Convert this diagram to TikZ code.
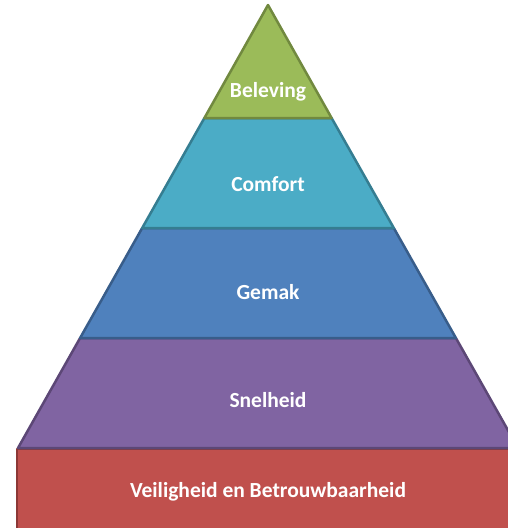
\documentclass[tikz,border=0pt]{standalone}
\usepackage{fontspec}
\setmainfont{Carlito}
\definecolor{gfill}{HTML}{9BBB59}\definecolor{gline}{HTML}{71893F}
\definecolor{cfill}{HTML}{4BACC6}\definecolor{cline}{HTML}{357D91}
\definecolor{bfill}{HTML}{4F81BD}\definecolor{bline}{HTML}{385D8A}
\definecolor{pfill}{HTML}{8064A2}\definecolor{pline}{HTML}{5C4776}
\definecolor{rfill}{HTML}{C0504D}\definecolor{rline}{HTML}{8C3836}
\tikzset{layer/.style={line width=2.5pt,line join=round},
  lbl/.style={text=white,font=\bfseries\fontsize{21.5}{24}\selectfont,inner sep=0pt}}
\begin{document}
\begin{tikzpicture}[x=1pt,y=-1pt]
\useasboundingbox (0,0) rectangle (508,528);
\clip (0,0) rectangle (508,528);
\coordinate (A) at (268,5);
\coordinate (L1) at (204.4,118);\coordinate (R1) at (331.6,118);
\coordinate (L2) at (142.2,228);\coordinate (R2) at (393.8,228);
\coordinate (L3) at (80.1,338);\coordinate (R3) at (455.9,338);
\coordinate (L4) at (18,448);\coordinate (R4) at (518,448);
\filldraw[layer,fill=rfill,draw=rline] (17,449) rectangle (530,540);
\filldraw[layer,fill=pfill,draw=pline] (L3) -- (R3) -- (R4) -- (L4) -- cycle;
\filldraw[layer,fill=bfill,draw=bline] (L2) -- (R2) -- (R3) -- (L3) -- cycle;
\filldraw[layer,fill=cfill,draw=cline] (L1) -- (R1) -- (R2) -- (L2) -- cycle;
\filldraw[layer,fill=gfill,draw=gline] (A) -- (R1) -- (L1) -- cycle;
\node[lbl] (t1) at (268,92) {Beleving};
\node[lbl] (t2) at (268,184) {Comfort};
\node[lbl] (t3) at (268,292) {Gemak};
\node[lbl] (t4) at (268,400) {Snelheid};
\node[lbl] (t5) at (268,492) {Veiligheid en Betrouwbaarheid};
\end{tikzpicture}
\end{document}
